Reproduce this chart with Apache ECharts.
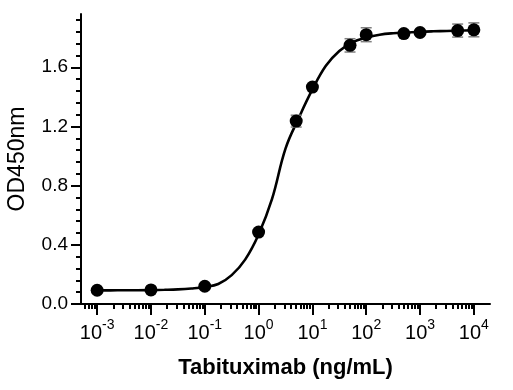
<!DOCTYPE html>
<html>
<head>
<meta charset="utf-8">
<script src="https://cdn.jsdelivr.net/npm/echarts@6/dist/echarts.min.js"></script>
<style>
  html, body { margin: 0; padding: 0; background: #fff; }
  #chart { width: 513px; height: 390px; }
</style>
</head>
<body>
<div id="chart"></div>
<script>
// measured points (ng/mL, OD450) and error bars
const conc = [0.001, 0.01, 0.1, 1, 5, 10, 50, 100, 500, 1000, 5000, 10000]
const od = [0.093, 0.095, 0.12, 0.486, 1.236, 1.466, 1.748, 1.82, 1.828, 1.835, 1.848, 1.853]
const sd = [0, 0, 0, 0, 0.04, 0, 0.045, 0.047, 0, 0, 0.044, 0.047]

// fitted curve (x in log10 ng/mL)
const fitLogX = [-3, -2.75, -2.5, -2.25, -2, -1.75, -1.5, -1.25, -1, -0.75, -0.5, -0.25, 0, 0.25, 0.5, 0.75, 1, 1.25, 1.5, 1.75, 2, 2.25, 2.5, 2.75, 3, 3.25, 3.5, 3.75, 4]
const fitOD = [0.092, 0.092, 0.093, 0.093, 0.094, 0.096, 0.099, 0.105, 0.115, 0.135, 0.195, 0.3, 0.47, 0.71, 1.05, 1.26, 1.45, 1.61, 1.71, 1.77, 1.8, 1.82, 1.83, 1.835, 1.84, 1.843, 1.845, 1.848, 1.85]

const xDecades = [-3, -2, -1, 0, 1, 2, 3, 4]
const yTicks = [0, 0.4, 0.8, 1.2, 1.6]

const minorX = []
for (let d = -4; d <= 4; d++) {
    for (let k = 2; k <= 9; k++) minorX.push(d + Math.log10(k))
}
const minorY = []
for (let i = 0; i <= 24; i++) minorY.push(+(i * 0.08).toFixed(2))

const font = "Liberation Sans, Arial, sans-serif"
const lg = v => Math.log10(v)

const chart = echarts.init(document.getElementById("chart"))

const axisLine = { show: true, onZero: false, lineStyle: { color: "#000", width: 2 } }

chart.setOption({
    animation: false,
    grid: { left: 81, right: 23, top: 14, bottom: 86, outerBoundsMode: "none" },
    xAxis: [
        {
            type: "value",
            min: -3.3,
            max: 4.3,
            name: "Tabituximab (ng/mL)",
            nameLocation: "middle",
            nameGap: 53,
            nameTextStyle: { fontFamily: font, fontSize: 22, fontWeight: "bold", color: "#000" },
            axisLine: axisLine,
            splitLine: { show: false },
            axisTick: { show: true, customValues: xDecades, length: 11, lineStyle: { color: "#000", width: 2 } },
            axisLabel: {
                customValues: xDecades,
                margin: 14,
                formatter: v => "{b|10}{s|" + Math.round(v) + "}",
                rich: {
                    b: { fontFamily: font, fontSize: 20, lineHeight: 25, verticalAlign: "bottom", color: "#000" },
                    s: { fontFamily: font, fontSize: 14, lineHeight: 14, verticalAlign: "top", color: "#000" }
                }
            }
        },
        {
            type: "value",
            min: -3.3,
            max: 4.3,
            position: "bottom",
            axisLine: { show: false, onZero: false },
            splitLine: { show: false },
            axisLabel: { show: false },
            axisTick: { show: true, customValues: minorX, length: 5, lineStyle: { color: "#000", width: 2 } }
        }
    ],
    yAxis: [
        {
            type: "value",
            min: 0,
            max: 1.96,
            name: "OD450nm",
            nameLocation: "middle",
            nameGap: 52,
            nameTextStyle: { fontFamily: font, fontSize: 23, color: "#000" },
            axisLine: axisLine,
            splitLine: { show: false },
            axisTick: { show: true, customValues: yTicks, length: 10, lineStyle: { color: "#000", width: 2 } },
            axisLabel: {
                customValues: yTicks,
                margin: 13,
                fontFamily: font,
                fontSize: 19,
                color: "#000",
                formatter: v => v.toFixed(1)
            }
        },
        {
            type: "value",
            min: 0,
            max: 1.96,
            position: "left",
            axisLine: { show: false, onZero: false },
            splitLine: { show: false },
            axisLabel: { show: false },
            axisTick: { show: true, customValues: minorY, length: 5, lineStyle: { color: "#000", width: 2 } }
        }
    ],
    series: [
        {
            type: "line",
            data: fitLogX.map((x, i) => [x, fitOD[i]]),
            showSymbol: false,
            smooth: 0.4,
            lineStyle: { color: "#000", width: 2.6 },
            z: 2
        },
        {
            type: "custom",
            data: conc.map((c, i) => [lg(c), od[i], sd[i]]),
            renderItem: (params, api) => {
                const err = api.value(2)
                if (!err) return null
                const x = api.value(0)
                const y = api.value(1)
                const top = api.coord([x, y + err])
                const bot = api.coord([x, y - err])
                const w = 5.5
                const style = { stroke: "#808080", lineWidth: 1.5 }
                return {
                    type: "group",
                    children: [
                        { type: "line", shape: { x1: top[0], y1: top[1], x2: bot[0], y2: bot[1] }, style },
                        { type: "line", shape: { x1: top[0] - w, y1: top[1], x2: top[0] + w, y2: top[1] }, style },
                        { type: "line", shape: { x1: bot[0] - w, y1: bot[1], x2: bot[0] + w, y2: bot[1] }, style }
                    ]
                }
            },
            z: 3
        },
        {
            type: "scatter",
            data: conc.map((c, i) => [lg(c), od[i]]),
            symbol: "circle",
            symbolSize: 13,
            itemStyle: { color: "#000", opacity: 1 },
            z: 4
        }
    ]
})
</script>
</body>
</html>
